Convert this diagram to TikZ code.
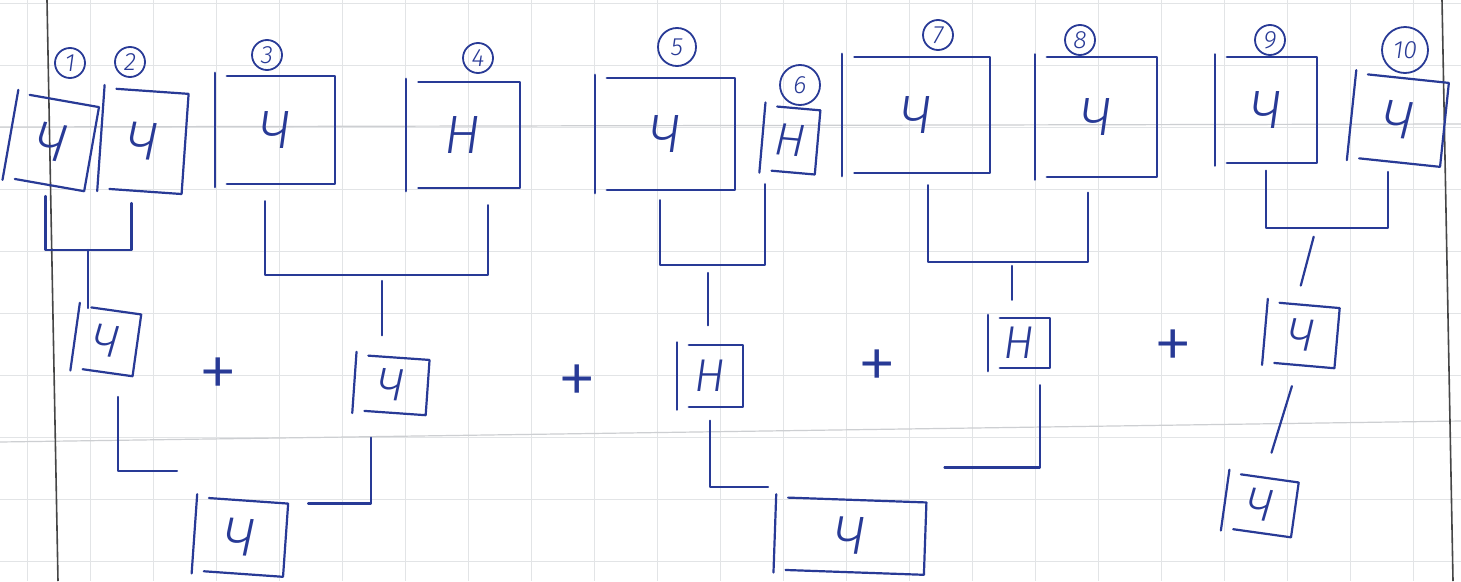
\documentclass[tikz,border=0pt]{standalone}
\usepackage{fontspec}
\setmainfont{Liberation Sans}
\newfontfamily\handfont{Fira Sans}[UprightFont=* Light, ItalicFont=* Light Italic]
\usetikzlibrary{calc}
\definecolor{pen}{RGB}{40,58,150}
\definecolor{gridc}{RGB}{226,228,230}
\definecolor{gridd}{RGB}{205,207,210}
\definecolor{marginc}{RGB}{70,70,70}
\tikzset{
  penline/.style={draw=pen, line width=2.2pt, line cap=round, line join=round},
  link/.style={penline},
  sz/.style 2 args={minimum width=#1pt, minimum height=#2pt},
  cell/.style={inner sep=0pt, text=pen, font=\handfont\fontsize{54}{54}\selectfont\itshape},
  smallcell/.style={cell, font=\handfont\fontsize{46}{46}\selectfont\itshape},
  num/.style={circle, draw=pen, line width=1.8pt, inner sep=0pt, minimum size=30pt, text=pen, font=\handfont\fontsize{25}{25}\selectfont\itshape},
  plus/.style={text=pen, inner sep=0pt, font=\handfont\fontsize{80}{80}\selectfont},
  gridline/.style={draw=gridc, line width=1pt},
  gridlinedark/.style={draw=gridd, line width=1.2pt},
  marginline/.style={draw=marginc, line width=1.6pt},
}
\newcommand\handcell[1]{%
  \draw[penline] ($(#1.north west)!12pt!(#1.north east)$) -- (#1.north east) -- (#1.south east) -- ($(#1.south west)!12pt!(#1.south east)$);
  \draw[penline] ($(#1.north west)!-3pt!(#1.south west)$) -- ($(#1.south west)!-3pt!(#1.north west)$);
}
\begin{document}
\begin{tikzpicture}[x=1pt,y=-1pt]
\useasboundingbox (0,0) rectangle (1461,581);
\fill[white] (0,0) rectangle (1461,581);
% graph paper
\foreach \gx in {27,90,...,1413} \draw[gridline] (\gx,0) -- (\gx,581);
\foreach \gy in {3,65,...,561} \draw[gridline] (0,\gy) -- (1461,\gy);
\draw[gridlinedark] (0,127) -- (1461,124);
\draw[gridlinedark] (0,442) -- (1461,421);
% page margins
\draw[marginline] (47,0) -- (58,581);
\draw[marginline] (1442,0) -- (1453,581);

% top row
\node[cell, sz={82}{85}, rotate=-10] (b1) at (51,142) {Ч};
\node[cell, sz={84}{100}, rotate=-4] (b2) at (143,141) {Ч};
\node[cell, sz={120}{108}] (b3) at (275,130) {Ч};
\node[cell, sz={113}{106}] (b4) at (463,135) {Н};
\node[cell, sz={140}{112}] (b5) at (665,134) {Ч};
\node[smallcell, sz={55}{64}, rotate=-5] (b6) at (790,140) {Н};
\node[cell, sz={147}{116}] (b7) at (916,115) {Ч};
\node[cell, sz={122}{119}] (b8) at (1096,117) {Ч};
\node[cell, sz={102}{105}] (b9) at (1266,110) {Ч};
\node[cell, sz={93}{84}, rotate=-6] (b10) at (1398,120) {Ч};
\foreach \b in {b1,b2,b3,b4,b5,b6,b7,b8,b9,b10} {\handcell{\b}}

% numbers
\node[num] (n1) at (70,63) {1};
\node[num] (n2) at (130,62) {2};
\node[num] (n3) at (267,55) {3};
\node[num] (n4) at (478,58) {4};
\node[num, minimum size=38pt] (n5) at (677,47) {5};
\node[num, minimum size=40pt] (n6) at (800,85) {6};
\node[num] (n7) at (938,35) {7};
\node[num] (n8) at (1080,40) {8};
\node[num] (n9) at (1270,40) {9};
\node[num, minimum size=46pt] (n10) at (1405,50) {10};

% second row
\node[smallcell, sz={62}{62}, rotate=-8] (m1) at (106,341) {Ч};
\node[smallcell, sz={73}{55}, rotate=-4] (m2) at (391,385) {Ч};
\node[smallcell, sz={66}{61}] (m3) at (710,376) {Н};
\node[smallcell, sz={62}{50}] (m4) at (1019,343) {Н};
\node[smallcell, sz={72}{60}, rotate=-5] (m5) at (1301,335) {Ч};
\foreach \b in {m1,m2,m3,m4,m5} {\handcell{\b}}

% plus signs
\node[plus] (p1) at (218,378) {+};
\node[plus] (p2) at (577,385) {+};
\node[plus] (p3) at (877,370) {+};
\node[plus] (p4) at (1173,350) {+};

% third row
\node[cell, sz={91}{73}, rotate=-4] (t1) at (240,537) {Ч};
\node[cell, sz={150}{72}, rotate=-2] (t2) at (850,536) {Ч};
\node[smallcell, sz={70}{55}, rotate=-8] (t3) at (1260,505) {Ч};
\foreach \b in {t1,t2,t3} {\handcell{\b}}

% brackets top -> second row
\coordinate (j1) at (88,250);
\draw[link] ([xshift=2pt,yshift=-12pt]b1.south) |- (j1) -| ([xshift=-8pt,yshift=-12pt]b2.south);
\draw[link, shorten >=2pt] (j1) -- (j1 |- m1.north);

\coordinate (j2) at (382,275);
\draw[link] ([xshift=-10pt,yshift=-17pt]b3.south) |- (j2) -| ([xshift=25pt,yshift=-17pt]b4.south);
\draw[link, shorten <=6pt, shorten >=22pt] (j2) -- (j2 |- m2.north);

\coordinate (j3) at (708,265);
\draw[link] ([xshift=-5pt,yshift=-10pt]b5.south) |- (j3) -| ([xshift=-22pt,yshift=-12pt]b6.south);
\draw[link, shorten <=8pt, shorten >=20pt] (j3) -- (j3 |- m3.north);

\coordinate (j4) at (1012,262);
\draw[link] ([xshift=12pt,yshift=-12pt]b7.south) |- (j4) -| ([xshift=-8pt,yshift=-16pt]b8.south);
\draw[link, shorten <=4pt, shorten >=18pt] (j4) -- (j4 |- m4.north);

\coordinate (j5) at (1316,228);
\draw[link] ([yshift=-8pt]b9.south) |- (j5) -| ([xshift=-6pt,yshift=-10pt]b10.south);
\draw[link, shorten <=9pt, shorten >=20pt] (j5) -- ([xshift=-8pt]m5.north);

% brackets second -> third row
\draw[link] ([xshift=16pt,yshift=-25pt]m1.south) |- ([xshift=-20pt,yshift=26pt]t1.north west);
\draw[link] ([xshift=-18pt,yshift=-25pt]m2.south) |- ([xshift=20pt]t1.north east);
\draw[link] ([yshift=-14pt]m3.south) |- ([xshift=-8pt,yshift=10pt]t2.north west);
\draw[link] ([xshift=21pt,yshift=-17pt]m4.south) |- ([xshift=18pt,yshift=35pt]t2.north east);
\draw[link, shorten <=22pt, shorten >=26pt] (m5.south) -- (t3.north);
\end{tikzpicture}
\end{document}
